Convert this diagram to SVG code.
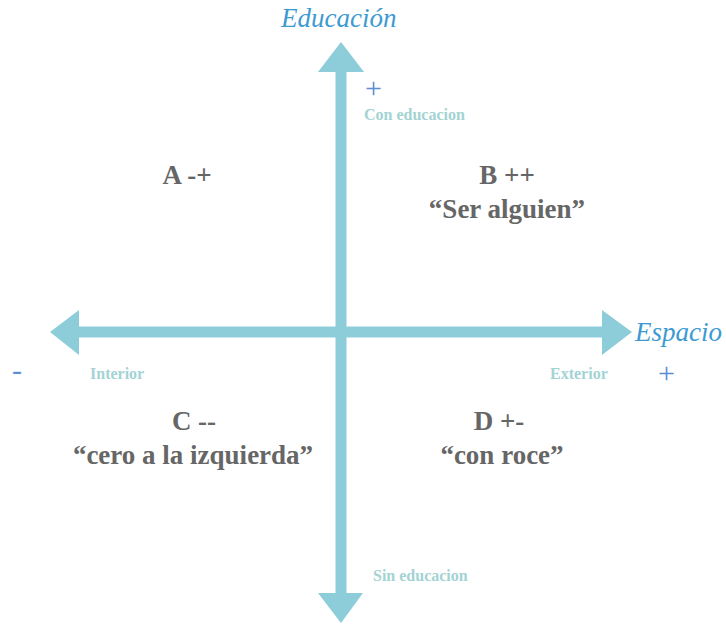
<svg xmlns="http://www.w3.org/2000/svg" width="726" height="625" viewBox="0 0 726 625">
<style>
.axis{fill:#8ccdd9}
.title{font-family:"Liberation Serif",serif;font-style:italic;font-size:27px;fill:#3d9ad2}
.small{font-family:"Liberation Serif",serif;font-weight:bold;font-size:16px;fill:#a3d3d3}
.sign{font-family:"Liberation Serif",serif;font-size:30px;fill:#5b8fd4}
.quad{font-family:"Liberation Serif",serif;font-weight:bold;font-size:27px;fill:#666666;text-anchor:middle}
</style>
<rect width="726" height="625" fill="#ffffff"/>
<g id="connectors">
<polygon class="axis" points="341,42 364,72 346.5,72 346.5,593 363,593 341,623 318,593 335.5,593 335.5,72 318,72"/>
<polygon class="axis" points="50,332 79,310 79,326.5 602,326.5 602,310 632,332 602,355 602,337.5 79,337.5 79,355"/>
</g>
<g id="axis-education">
<text class="title" x="281" y="27">Educación</text>
<text class="sign" x="365" y="98">+</text>
<text class="small" x="364" y="120">Con educacion</text>
<text class="small" x="373" y="581">Sin  educacion</text>
</g>
<g id="axis-space">
<text class="title" x="635" y="341">Espacio</text>
<text class="sign" x="12" y="380">-</text>
<text class="small" x="90" y="379">Interior</text>
<text class="small" x="550" y="379">Exterior</text>
<text class="sign" x="658" y="383">+</text>
</g>
<g id="quad-A">
<text class="quad" x="187" y="184">A -+</text>
</g>
<g id="quad-B">
<text class="quad" x="507" y="184">B ++</text>
<text class="quad" x="507" y="218">“Ser alguien”</text>
</g>
<g id="quad-C">
<text class="quad" x="194" y="430">C --</text>
<text class="quad" x="193" y="464">“cero a la izquierda”</text>
</g>
<g id="quad-D">
<text class="quad" x="499" y="430">D +-</text>
<text class="quad" x="502" y="464">“con roce”</text>
</g>
</svg>
